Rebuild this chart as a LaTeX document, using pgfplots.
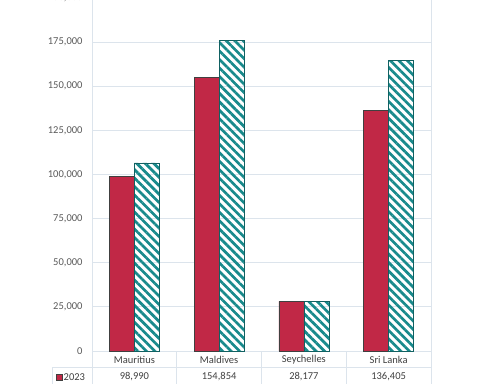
\documentclass[border=0pt]{standalone}
\usepackage{pgfplots}
\pgfplotsset{compat=1.18}
\usepackage{pgfplotstable}
\usepackage{fontspec}
\setmainfont{Carlito}
\usetikzlibrary{patterns.meta}
\definecolor{barred}{RGB}{193,40,70}
\definecolor{barteal}{RGB}{24,138,140}
\definecolor{gridc}{RGB}{220,228,236}
\definecolor{ticktxt}{RGB}{89,89,89}
\definecolor{tabtxt}{RGB}{64,64,64}

\pgfplotstableread{
x y
0 98990
1 154854
2 28177
3 136405
}\dataA
\pgfplotstableread{
x y
0 106600
1 176000
2 28300
3 164600
}\dataB

\begin{document}
\begin{tikzpicture}
\begin{axis}[
  at={(0,0)}, anchor=south west,
  scale only axis, width=339pt, height=353pt,
  ybar=0pt, bar width=25pt,
  xmin=-0.5, xmax=3.5, ymin=0, ymax=200000,
  ytick={0,25000,50000,75000,100000,125000,150000,175000,200000},
  yticklabels={0,{25,000},{50,000},{75,000},{100,000},{125,000},{150,000},{175,000},{200,000}},
  xtick=\empty,
  ymajorgrids, grid style={gridc, line width=0.8pt},
  axis line style={gridc, line width=0.8pt},
  axis x line*=bottom, axis y line*=left,
  y axis line style={-},
  x axis line style={-},
  major tick length=0pt,
  yticklabel style={font=\fontsize{10.5}{12}\selectfont, text=ticktxt, xshift=-6pt},
  scaled y ticks=false,
  clip=false,
]
\addplot[fill=barred, draw=black!75, line width=0.5pt] table[x=x,y=y]{\dataA};
\addplot[pattern={Lines[angle=-45, distance=6pt, line width=2.7pt]}, pattern color=barteal, draw=barteal!70!black, line width=0.6pt] table[x=x,y=y]{\dataB};

% right border
\draw[gridc, line width=0.8pt] (rel axis cs:1,0) -- (rel axis cs:1,1);
% table lines
\draw[gridc, line width=0.8pt] (axis cs:-0.5,0) -- ([yshift=-40pt]axis cs:-0.5,0);
\draw[gridc, line width=0.8pt] (axis cs:0.5,0) -- ([yshift=-40pt]axis cs:0.5,0);
\draw[gridc, line width=0.8pt] (axis cs:1.5,0) -- ([yshift=-40pt]axis cs:1.5,0);
\draw[gridc, line width=0.8pt] (axis cs:2.5,0) -- ([yshift=-40pt]axis cs:2.5,0);
\draw[gridc, line width=0.8pt] (axis cs:3.5,0) -- ([yshift=-40pt]axis cs:3.5,0);
\draw[gridc, line width=0.8pt] ([yshift=-16pt,xshift=-40pt]axis cs:-0.5,0) -- ([yshift=-16pt]axis cs:3.5,0);
\draw[gridc, line width=0.8pt] ([yshift=-16pt,xshift=-40pt]axis cs:-0.5,0) -- ([yshift=-40pt,xshift=-40pt]axis cs:-0.5,0);
% header row
\node[font=\fontsize{10.5}{12}\selectfont, text=tabtxt] at ([yshift=-8.5pt]axis cs:0,0) {Mauritius};
\node[font=\fontsize{10.5}{12}\selectfont, text=tabtxt] at ([yshift=-8.5pt]axis cs:1,0) {Maldives};
\node[font=\fontsize{10.5}{12}\selectfont, text=tabtxt] at ([yshift=-8.5pt]axis cs:2,0) {Seychelles};
\node[font=\fontsize{10.5}{12}\selectfont, text=tabtxt] at ([yshift=-8.5pt]axis cs:3,0) {Sri Lanka};
% 2023 row
\node[font=\fontsize{10.5}{12}\selectfont, text=tabtxt] at ([yshift=-26pt]axis cs:0,0) {98,990};
\node[font=\fontsize{10.5}{12}\selectfont, text=tabtxt] at ([yshift=-26pt]axis cs:1,0) {154,854};
\node[font=\fontsize{10.5}{12}\selectfont, text=tabtxt] at ([yshift=-26pt]axis cs:2,0) {28,177};
\node[font=\fontsize{10.5}{12}\selectfont, text=tabtxt] at ([yshift=-26pt]axis cs:3,0) {136,405};
\fill[barred, draw=black!75, line width=0.4pt] ([xshift=-35.5pt,yshift=-29pt]axis cs:-0.5,0) rectangle ([xshift=-29.5pt,yshift=-23pt]axis cs:-0.5,0);
\node[font=\fontsize{10.5}{12}\selectfont, text=tabtxt, anchor=west, inner sep=0pt] at ([xshift=-28.5pt,yshift=-26pt]axis cs:-0.5,0) {2023};
\end{axis}
\pgfresetboundingbox
\path[use as bounding box] (-92pt,-32pt) rectangle (408pt,351pt);
\end{tikzpicture}
\end{document}
